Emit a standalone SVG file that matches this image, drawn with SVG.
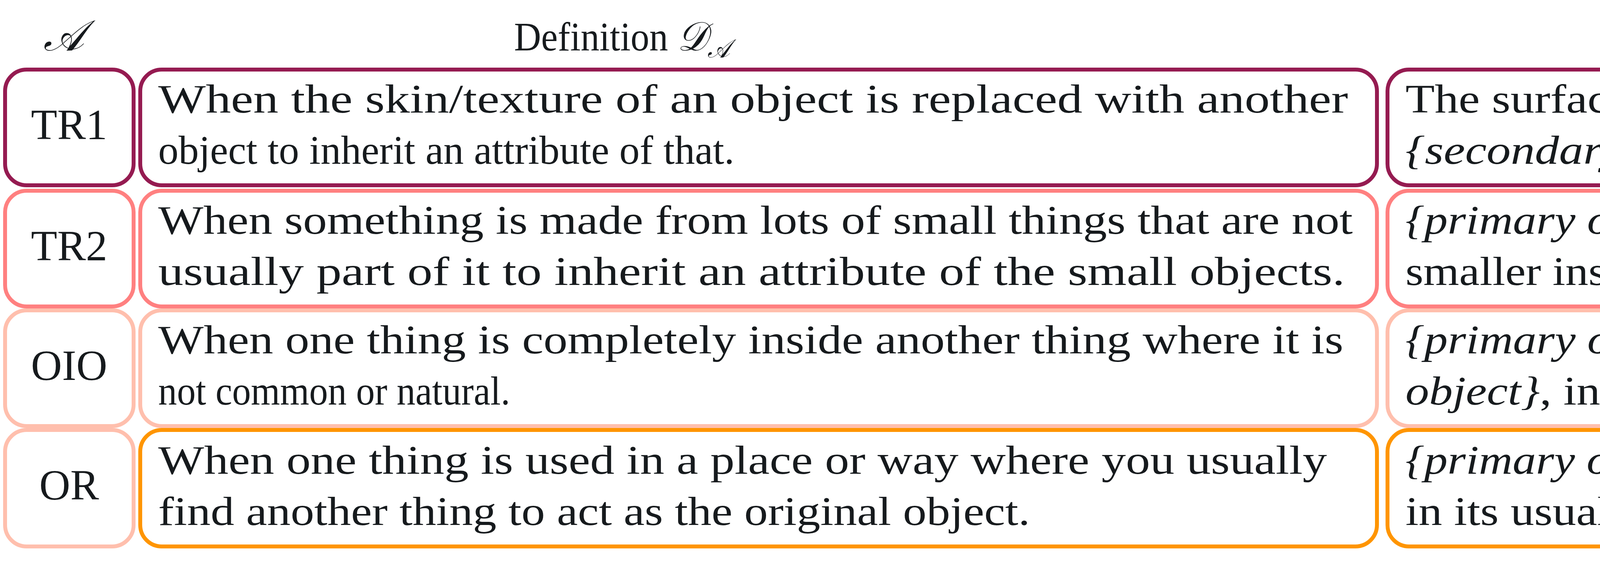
<svg xmlns="http://www.w3.org/2000/svg" width="6480" height="1448" viewBox="0 0 6480 1448">
<style>
text{font-family:"Liberation Serif","DejaVu Serif",serif;font-size:104px;fill:#161a1d}
.i{font-style:italic}
.box{fill:#fff;stroke-width:10}
.c1{stroke:#951b51}.c2{stroke:#ff8080}.c3{stroke:#ffbfad}.c4{stroke:#ff9500}
.lab{text-anchor:middle;font-size:110px}
</style>
<rect width="6480" height="1448" fill="#fff"/>
<g id="header">
<text x="163" y="129" class="lab i" font-size="130">𝒜</text>
<text x="1316" y="129" textLength="552" lengthAdjust="spacingAndGlyphs">Definition  <tspan class="i">𝒟</tspan><tspan class="i" font-size="66" dy="18">𝒜</tspan></text>
<text x="4509" y="129" textLength="690" lengthAdjust="spacingAndGlyphs">Statement templates  <tspan class="i">𝒮</tspan><tspan class="i" font-size="66" dy="18">𝒜</tspan></text>
</g>
<g id="row-TR1">
<rect class="box c1" x="13" y="178" width="329" height="296" rx="55"/>
<text class="lab" x="177" y="356">TR1</text>
<rect class="box c1" x="359" y="178" width="3166" height="296" rx="55"/>
<text x="405" y="288" textLength="3046" lengthAdjust="spacingAndGlyphs">When the skin/texture of an object is replaced with another</text>
<text x="405" y="419" textLength="1475" lengthAdjust="spacingAndGlyphs">object to inherit an attribute of that.</text>
<rect class="box c1" x="3552" y="178" width="2917" height="296" rx="55"/>
<text x="3598" y="288" textLength="2635" lengthAdjust="spacingAndGlyphs">The surface of <tspan class="i">{primary object}</tspan> mimics the texture of</text>
<text x="3598" y="419" textLength="2808" lengthAdjust="spacingAndGlyphs"><tspan class="i">{secondary object}</tspan>, while retaining its original structure.</text>
</g>
<g id="row-TR2">
<rect class="box c2" x="13" y="488" width="329" height="296" rx="55"/>
<text class="lab" x="177" y="666">TR2</text>
<rect class="box c2" x="359" y="488" width="3166" height="296" rx="55"/>
<text x="405" y="598" textLength="3058" lengthAdjust="spacingAndGlyphs">When something is made from lots of small things that are not</text>
<text x="405" y="729" textLength="3038" lengthAdjust="spacingAndGlyphs">usually part of it to inherit an attribute of the small objects.</text>
<rect class="box c2" x="3552" y="488" width="2917" height="296" rx="55"/>
<text x="3598" y="598" textLength="2651" lengthAdjust="spacingAndGlyphs"><tspan class="i">{primary object}</tspan> appears to be composed of numerous,</text>
<text x="3598" y="729" textLength="2808" lengthAdjust="spacingAndGlyphs">smaller instances of <tspan class="i">{secondary object},</tspan> altering its texture.</text>
</g>
<g id="row-OIO">
<rect class="box c3" x="13" y="794" width="329" height="296" rx="55"/>
<text class="lab" x="177" y="972">OIO</text>
<rect class="box c3" x="359" y="794" width="3166" height="296" rx="55"/>
<text x="405" y="904" textLength="3034" lengthAdjust="spacingAndGlyphs">When one thing is completely inside another thing where it is</text>
<text x="405" y="1035" textLength="901" lengthAdjust="spacingAndGlyphs">not common or natural.</text>
<rect class="box c3" x="3552" y="794" width="2917" height="296" rx="55"/>
<text x="3598" y="904" textLength="2562" lengthAdjust="spacingAndGlyphs"><tspan class="i">{primary object}</tspan> is visibly located within <tspan class="i">{secondary</tspan></text>
<text x="3598" y="1035" textLength="1835" lengthAdjust="spacingAndGlyphs"><tspan class="i">object}</tspan>, in an unconventional manner.</text>
</g>
<g id="row-OR">
<rect class="box c3" x="13" y="1100" width="329" height="298" rx="55"/>
<text class="lab" x="177" y="1278">OR</text>
<rect class="box c4" x="359" y="1100" width="3166" height="298" rx="55"/>
<text x="405" y="1212" textLength="2992" lengthAdjust="spacingAndGlyphs">When one thing is used in a place or way where you usually</text>
<text x="405" y="1343" textLength="2232" lengthAdjust="spacingAndGlyphs">find another thing to act as the original object.</text>
<rect class="box c4" x="3552" y="1100" width="2917" height="298" rx="55"/>
<text x="3598" y="1212" textLength="2729" lengthAdjust="spacingAndGlyphs"><tspan class="i">{primary object}</tspan> completely replaces <tspan class="i">{secondary object}</tspan></text>
<text x="3598" y="1343" textLength="2588" lengthAdjust="spacingAndGlyphs">in its usual context, assuming its function or position.</text>
</g>
<g id="connectors"/>
</svg>
